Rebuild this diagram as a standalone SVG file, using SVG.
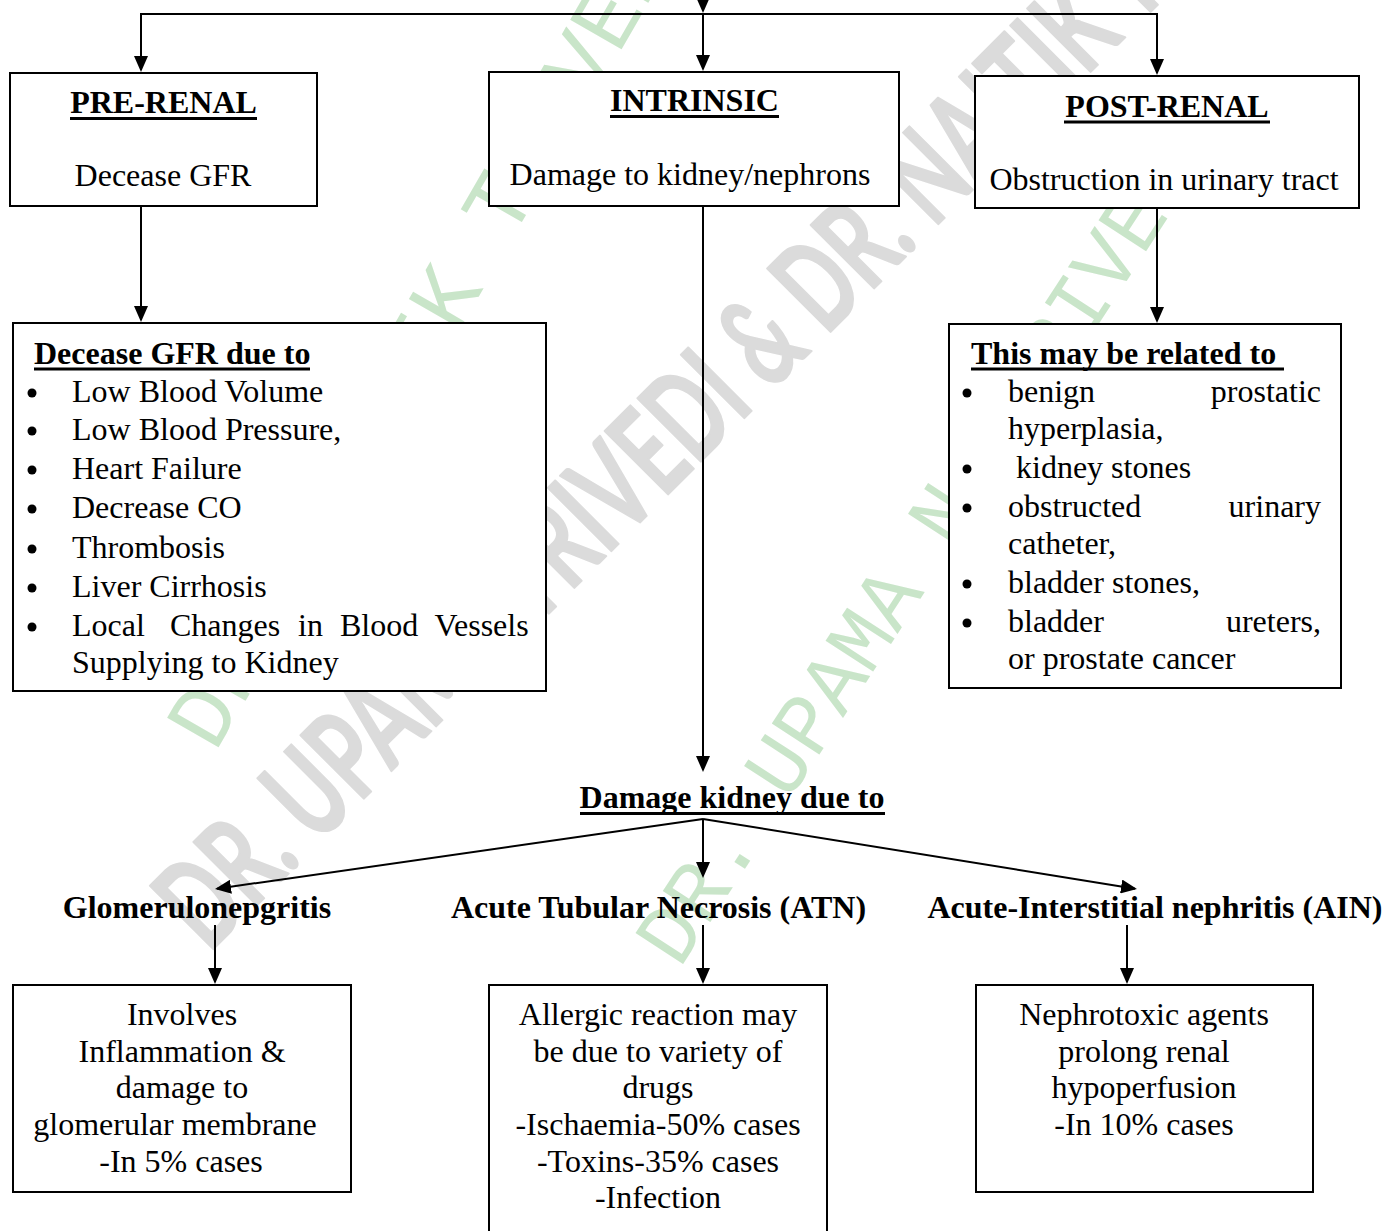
<svg xmlns="http://www.w3.org/2000/svg" width="1384" height="1231" viewBox="0 0 1384 1231">
<defs>
<style>
.t{font-family:"Liberation Serif","Times New Roman",serif;font-size:32px;fill:#000}
.b{font-weight:bold}
.c{text-anchor:middle}
.e{text-anchor:end}
.box{fill:#fff;stroke:#000;stroke-width:2}
.ul{stroke:#000;stroke-width:3}
.cn{stroke:#000;stroke-width:2;fill:none}
.dot{fill:#000}
.wmg{font-family:Lato,"Open Sans",sans-serif;font-size:124px;font-weight:bold;fill:#dbdbdb;stroke:#dbdbdb;stroke-width:2;stroke-linejoin:round}
.wmn{font-family:"Liberation Mono","Courier New",monospace;fill:#c9e5c9}
</style>
<marker id="ah" viewBox="0 0 16 14" refX="14" refY="7" markerWidth="16" markerHeight="14" markerUnits="userSpaceOnUse" orient="auto">
<path d="M0,0 L16,7 L0,14 Z" fill="#000"/>
</marker>
</defs>
<rect width="1384" height="1231" fill="#fff"/>
<g id="watermark">
<text class="wmg" transform="rotate(-45)" x="-527" y="822" textLength="1626" lengthAdjust="spacingAndGlyphs">DR. UPAMA TRIVEDI &amp; DR. NAITIK TRIVEDI</text>
<text class="wmn" font-size="90" transform="rotate(-60)" x="-545" y="563" textLength="967" lengthAdjust="spacingAndGlyphs">DR. NAITIK TRIVEDI</text>
<text class="wmn" font-size="86" transform="rotate(-57)" x="-443" y="1098" textLength="1000" lengthAdjust="spacingAndGlyphs">DR. UPAMA N. TRIVEDI</text>
</g>
<g id="pre-renal">
<rect class="box" x="10" y="73" width="307" height="133"/>
<text class="t b c" x="163.5" y="113">PRE-RENAL</text>
<line class="ul" x1="70" y1="118.5" x2="257" y2="118.5"/>
<text class="t c" x="163" y="186">Decease GFR</text>
</g>
<g id="intrinsic">
<rect class="box" x="489" y="72" width="410" height="134"/>
<text class="t b c" x="694.5" y="111">INTRINSIC</text>
<line class="ul" x1="610" y1="116.5" x2="779" y2="116.5"/>
<text class="t c" x="690" y="185">Damage to kidney/nephrons</text>
</g>
<g id="post-renal">
<rect class="box" x="975" y="76" width="384" height="132"/>
<text class="t b c" x="1167" y="117">POST-RENAL</text>
<line class="ul" x1="1064" y1="122" x2="1270" y2="122"/>
<text class="t c" x="1164" y="190">Obstruction in urinary tract</text>
</g>
<g id="pre-renal-causes">
<rect class="box" x="13" y="323" width="533" height="368"/>
<text class="t b" x="34" y="364">Decease GFR due to</text>
<line class="ul" x1="34" y1="369" x2="310" y2="369"/>
<circle class="dot" cx="32" cy="393" r="4.5"/>
<circle class="dot" cx="32" cy="431" r="4.5"/>
<circle class="dot" cx="32" cy="470" r="4.5"/>
<circle class="dot" cx="32" cy="509" r="4.5"/>
<circle class="dot" cx="32" cy="549" r="4.5"/>
<circle class="dot" cx="32" cy="588" r="4.5"/>
<circle class="dot" cx="32" cy="627" r="4.5"/>
<text class="t" x="72" y="402">Low Blood Volume</text>
<text class="t" x="72" y="440">Low Blood Pressure,</text>
<text class="t" x="72" y="479">Heart Failure</text>
<text class="t" x="72" y="518">Decrease CO</text>
<text class="t" x="72" y="558">Thrombosis</text>
<text class="t" x="72" y="597">Liver Cirrhosis</text>
<text class="t" y="636"><tspan x="72">Local</tspan><tspan x="162"> Changes</tspan><tspan x="290"> in</tspan><tspan x="332"> Blood</tspan><tspan x="427"> Vessels</tspan></text>
<text class="t" x="72" y="673">Supplying to Kidney</text>
</g>
<g id="post-renal-causes">
<rect class="box" x="949" y="324" width="392" height="364"/>
<text class="t b" x="971" y="364">This may be related to </text>
<line class="ul" x1="971" y1="369" x2="1284" y2="369"/>
<circle class="dot" cx="967" cy="393" r="4.5"/>
<circle class="dot" cx="967" cy="469" r="4.5"/>
<circle class="dot" cx="967" cy="508" r="4.5"/>
<circle class="dot" cx="967" cy="584" r="4.5"/>
<circle class="dot" cx="967" cy="623" r="4.5"/>
<text class="t" x="1008" y="402">benign</text>
<text class="t e" x="1321" y="402">prostatic</text>
<text class="t" x="1008" y="439">hyperplasia,</text>
<text class="t" x="1016" y="478">kidney stones</text>
<text class="t" x="1008" y="517">obstructed</text>
<text class="t e" x="1321" y="517">urinary</text>
<text class="t" x="1008" y="554">catheter,</text>
<text class="t" x="1008" y="593">bladder stones,</text>
<text class="t" x="1008" y="632">bladder</text>
<text class="t e" x="1321" y="632">ureters,</text>
<text class="t" x="1008" y="669">or prostate cancer</text>
</g>
<g id="damage-kidney">
<text class="t b c" x="732" y="808">Damage kidney due to</text>
<line class="ul" x1="580" y1="813.5" x2="885" y2="813.5"/>
</g>
<g id="glomerulonephritis-label">
<text class="t b c" x="197" y="918">Glomerulonepgritis</text>
</g>
<g id="atn-label">
<text class="t b c" x="658.5" y="918">Acute Tubular Necrosis (ATN)</text>
</g>
<g id="ain-label">
<text class="t b c" x="1155" y="918">Acute-Interstitial nephritis (AIN)</text>
</g>
<g id="glomerulonephritis-box">
<rect class="box" x="13" y="985" width="338" height="207"/>
<text class="t c" x="182" y="1025">Involves</text>
<text class="t c" x="182" y="1062">Inflammation &amp;</text>
<text class="t c" x="182" y="1098">damage to</text>
<text class="t c" x="175" y="1135">glomerular membrane</text>
<text class="t c" x="181" y="1172">-In 5% cases</text>
</g>
<g id="atn-box">
<rect class="box" x="489" y="985" width="338" height="260"/>
<text class="t c" x="658" y="1025">Allergic reaction may</text>
<text class="t c" x="658" y="1062">be due to variety of</text>
<text class="t c" x="658" y="1098">drugs</text>
<text class="t c" x="658" y="1135">-Ischaemia-50% cases</text>
<text class="t c" x="658" y="1172">-Toxins-35% cases</text>
<text class="t c" x="658" y="1208">-Infection</text>
</g>
<g id="ain-box">
<rect class="box" x="976" y="985" width="337" height="207"/>
<text class="t c" x="1144" y="1025">Nephrotoxic agents</text>
<text class="t c" x="1144" y="1062">prolong renal</text>
<text class="t c" x="1144" y="1098">hypoperfusion</text>
<text class="t c" x="1144" y="1135">-In 10% cases</text>
</g>
<g id="connectors">
<line class="cn" x1="703" y1="-10" x2="703" y2="11" marker-end="url(#ah)"/>
<line class="cn" x1="140" y1="14" x2="1158" y2="14"/>
<line class="cn" x1="141" y1="14" x2="141" y2="70" marker-end="url(#ah)"/>
<line class="cn" x1="703" y1="14" x2="703" y2="69" marker-end="url(#ah)"/>
<line class="cn" x1="1157" y1="14" x2="1157" y2="73" marker-end="url(#ah)"/>
<line class="cn" x1="141" y1="207" x2="141" y2="320" marker-end="url(#ah)"/>
<line class="cn" x1="1157" y1="209" x2="1157" y2="321" marker-end="url(#ah)"/>
<line class="cn" x1="703" y1="207" x2="703" y2="770" marker-end="url(#ah)"/>
<line class="cn" x1="703" y1="819" x2="217" y2="888.7" marker-end="url(#ah)"/>
<line class="cn" x1="703" y1="819" x2="703" y2="876" marker-end="url(#ah)"/>
<line class="cn" x1="703" y1="819" x2="1135" y2="888.7" marker-end="url(#ah)"/>
<line class="cn" x1="215" y1="925" x2="215" y2="982" marker-end="url(#ah)"/>
<line class="cn" x1="703" y1="925" x2="703" y2="982" marker-end="url(#ah)"/>
<line class="cn" x1="1127" y1="925" x2="1127" y2="982" marker-end="url(#ah)"/>
</g>
</svg>
